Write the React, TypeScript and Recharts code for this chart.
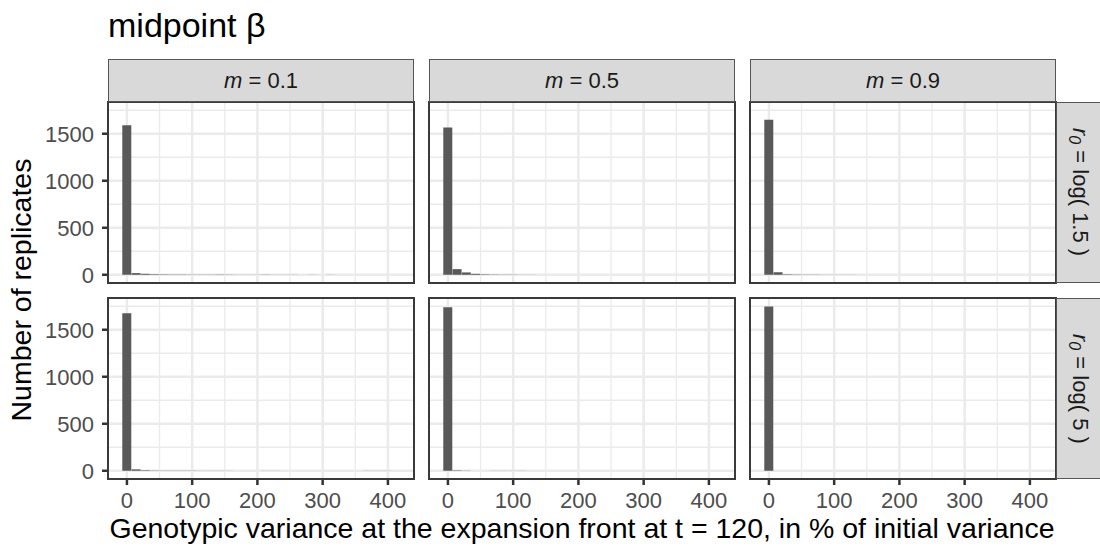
import React from 'react';
import { BarChart, Bar, XAxis, YAxis, CartesianGrid } from 'recharts';

const FONT = '"Liberation Sans", Arial, Helvetica, sans-serif';

// histogram bin centres (% of initial variance)
const binCenters = [0, 14.2, 28.4, 42.6, 56.8, 71, 85.2, 99.4, 113.6, 127.8, 142, 156.2, 170.4, 184.6, 198.8, 213, 227.2, 241.4, 255.6, 269.8, 284, 298.2, 312.4, 326.6, 340.8, 355, 369.2, 383.4, 397.6, 411.8];

// counts per facet: row = r0, column = m
const countsR15M01 = [1590, 18, 10, 6, 4, 3, 3, 2, 2, 2, 3, 2, 1, 1, 1, 2, 1, 1, 1, 1, 1, 0, 1, 0, 0, 0, 0, 0, 0, 0];
const countsR15M05 = [1567, 60, 25, 10, 5, 3, 2, 2, 1, 1, 0, 0, 0, 0, 0, 0, 0, 0, 0, 0, 0, 0, 0, 0, 0, 0, 0, 0, 0, 0];
const countsR15M09 = [1649, 27, 5, 3, 2, 2, 1, 1, 1, 1, 0, 0, 0, 0, 0, 0, 0, 0, 0, 0, 0, 0, 0, 0, 0, 0, 0, 0, 0, 0];
const countsR5M01 = [1675, 15, 6, 3, 2, 2, 2, 2, 1, 1, 1, 1, 0, 0, 0, 1, 1, 0, 0, 0, 0, 0, 0, 0, 0, 0, 1, 1, 1, 0];
const countsR5M05 = [1739, 5, 2, 0, 0, 1, 1, 1, 1, 0, 0, 0, 0, 0, 0, 0, 0, 0, 0, 0, 0, 0, 0, 0, 0, 0, 0, 0, 0, 0];
const countsR5M09 = [1746, 0, 0, 0, 0, 0, 0, 0, 0, 0, 0, 0, 0, 0, 0, 0, 0, 0, 0, 0, 0, 0, 0, 0, 0, 0, 0, 0, 0, 0];

const mLabels = ['0.1', '0.5', '0.9'];
const rLabels = ['1.5', '5'];
const xTicks = [0, 100, 200, 300, 400];
const xMinor = [50, 150, 250, 350];
const yTicks = [0, 500, 1000, 1500];
const yMinor = [250, 750, 1250, 1750];
const xDomain = [-29, 440];
const yDomain = [-87.5, 1837.5];

const facetCounts = [
  [countsR15M01, countsR15M05, countsR15M09],
  [countsR5M01, countsR5M05, countsR5M09],
];

const PANEL_W = 306;
const PANEL_H = 181;
const COL_LEFT = [108, 429, 750];
const ROW_TOP = [102, 298];
const Y_AXIS_W = 64;
const X_AXIS_H = 44;
const PAD = 12;

const tickStyle = { fill: '#4D4D4D', fontSize: 22, fontFamily: FONT };
const tickLineStyle = { stroke: '#333333', strokeWidth: 2.5 };

function Panel({ counts, row, col }: { counts: number[]; row: number; col: number }) {
  const showY = col === 0;
  const showX = row === 1;
  const data = binCenters.map((x, i) => ({ x, n: counts[i] }));
  const width = PANEL_W + (showY ? Y_AXIS_W : 0);
  const height = PANEL_H + (showX ? X_AXIS_H : PAD) + PAD;
  const left = COL_LEFT[col] - (showY ? Y_AXIS_W : 0);
  const top = ROW_TOP[row] - PAD;
  return (
    <>
      <div style={{ position: 'absolute', left, top }}>
        <BarChart
          width={width}
          height={height}
          data={data}
          margin={{ top: PAD, right: 0, bottom: showX ? 0 : PAD, left: 0 }}
          barCategoryGap={0}
          barGap={0}
          style={{ overflow: 'visible' }}
        >
          <CartesianGrid
            stroke="#EBEBEB"
            strokeWidth={1.3}
            horizontalValues={yMinor}
            verticalValues={xMinor}
          />
          <CartesianGrid
            stroke="#EBEBEB"
            strokeWidth={2.5}
            horizontalValues={yTicks}
            verticalValues={xTicks}
          />
          <XAxis
            dataKey="x"
            type="number"
            domain={xDomain}
            ticks={xTicks}
            allowDataOverflow
            hide={!showX}
            height={X_AXIS_H}
            axisLine={false}
            tickLine={tickLineStyle}
            tickSize={6}
            tickMargin={7}
            tick={tickStyle}
            interval={0}
          />
          <YAxis
            type="number"
            domain={yDomain}
            ticks={yTicks}
            allowDataOverflow
            hide={!showY}
            width={Y_AXIS_W}
            axisLine={false}
            tickLine={tickLineStyle}
            tickSize={6}
            tickMargin={8}
            tick={tickStyle}
            interval={0}
          />
          <Bar dataKey="n" fill="#595959" isAnimationActive={false} />
        </BarChart>
      </div>
      <div
        style={{
          position: 'absolute',
          left: COL_LEFT[col] - 1,
          top: ROW_TOP[row] - 1,
          width: PANEL_W + 2,
          height: PANEL_H + 2,
          border: '2px solid #3A3A3A',
          boxSizing: 'border-box',
          pointerEvents: 'none',
        }}
      />
    </>
  );
}

export default function App() {
  return (
    <div
      style={{
        position: 'absolute',
        left: 0,
        top: 0,
        width: 1100,
        height: 546,
        background: '#FFFFFF',
        overflow: 'hidden',
        fontFamily: FONT,
      }}
    >
      <div
        style={{
          position: 'absolute',
          left: 108,
          top: 8,
          fontSize: 34,
          lineHeight: '34px',
          color: '#000000',
          whiteSpace: 'nowrap',
        }}
      >
        midpoint β
      </div>

      {facetCounts.map((rowCounts, r) =>
        rowCounts.map((counts, c) => <Panel key={r + '-' + c} counts={counts} row={r} col={c} />)
      )}

      {mLabels.map((m, c) => (
        <div
          key={'strip-top-' + m}
          style={{
            position: 'absolute',
            left: COL_LEFT[c],
            top: 59,
            width: PANEL_W,
            height: 43,
            background: '#D9D9D9',
            border: '1px solid #555555',
            boxSizing: 'border-box',
            display: 'flex',
            alignItems: 'center',
            justifyContent: 'center',
            fontSize: 22,
            color: '#1A1A1A',
            whiteSpace: 'nowrap',
          }}
        >
          <span>
            <i>m</i> = {m}
          </span>
        </div>
      ))}

      {rLabels.map((r, i) => (
        <div
          key={'strip-right-' + r}
          style={{
            position: 'absolute',
            left: COL_LEFT[2] + PANEL_W,
            top: ROW_TOP[i],
            width: 46,
            height: PANEL_H,
            background: '#D9D9D9',
            border: '1px solid #555555',
            boxSizing: 'border-box',
            display: 'flex',
            alignItems: 'center',
            justifyContent: 'center',
            fontSize: 22,
            color: '#1A1A1A',
          }}
        >
          <span style={{ writingMode: 'vertical-rl', whiteSpace: 'nowrap' }}>
            <i>r</i>
            <sub style={{ fontSize: 16 }}>
              <i>0</i>
            </sub>{' '}
            = log( {r} )
          </span>
        </div>
      ))}

      <div
        style={{
          position: 'absolute',
          left: 21,
          top: 290,
          transform: 'translate(-50%, -50%) rotate(-90deg)',
          fontSize: 28.5,
          lineHeight: '28px',
          whiteSpace: 'nowrap',
          color: '#000000',
        }}
      >
        Number of replicates
      </div>

      <div
        style={{
          position: 'absolute',
          left: 582,
          top: 514,
          transform: 'translateX(-50%)',
          fontSize: 28.5,
          lineHeight: '28px',
          whiteSpace: 'nowrap',
          color: '#000000',
        }}
      >
        Genotypic variance at the expansion front at t = 120, in % of initial variance
      </div>
    </div>
  );
}
